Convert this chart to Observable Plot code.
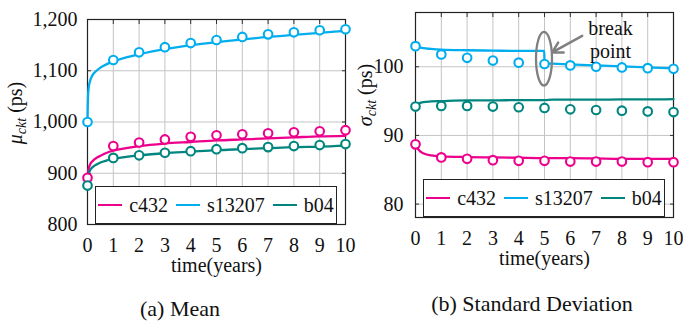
<!DOCTYPE html>
<html><head><meta charset="utf-8">
<script src="https://cdn.jsdelivr.net/npm/d3@7"></script>
<script src="https://cdn.jsdelivr.net/npm/@observablehq/plot@0.6"></script>
<style>
body{margin:0;background:#fff;}
#wrap{position:relative;width:683px;height:323px;font-family:"Liberation Serif","Times New Roman",serif;color:#111;overflow:hidden;}
#wrap svg, #wrap svg text, #wrap div, #wrap span{font-family:"Liberation Serif","Times New Roman",serif !important;}
.panel{position:absolute;top:0;}
.legend{position:absolute;box-sizing:border-box;border:1.2px solid #222;background:#fff;display:flex;align-items:center;justify-content:center;font-size:20px;}
.item{display:flex;align-items:center;margin:0 4px;}
.swatch{width:24px;height:2.6px;margin-right:7px;}
.caption{position:absolute;font-size:22px;text-align:center;white-space:nowrap;transform:translate(-50%,-50%);}
</style></head>
<body><div id="wrap"></div>
<script>
// ---------- data ----------
const years = [0,1,2,3,4,5,6,7,8,9,10];
const seriesNames = ["c432","s13207","b04"];
const seriesColors = ["#EC008C","#00AEEF","#00857F"];

// (a) mean, markers (ps)
const meanC432   = [891, 953, 960, 966, 971, 974, 976, 978, 980, 982, 984];
const meanS13207 = [1000,1121,1136,1146,1154,1160,1166,1171,1175,1179,1181];
const meanB04    = [876, 930, 935, 940, 943, 947, 949, 951, 953, 955, 957];
// (a) mean, fitted curves
const meanFitTime   = [0,0.02,0.05,0.1,0.2,0.35,0.5,0.75,1,1.5,2,3,4,5,6,7,8,9,10];
const meanFitC432   = [890,902,910,917,924,930,934,940,944,949,953,958,961,964,966,968,970,972,973];
const meanFitS13207 = [1000,1050,1068,1080,1092,1100,1106,1113,1118,1126,1132,1142,1150,1156,1161,1166,1170,1174,1178];
const meanFitB04    = [876,893,900,906,912,917,921,925,928,932,935,939,942,945,947,949,951,952,954];
const meanTicks = [800,900,1000,1100,1200];

// (b) standard deviation, markers (ps)
const sdC432   = [88.7,86.8,86.6,86.4,86.3,86.3,86.2,86.2,86.2,86.1,86.1];
const sdS13207 = [103.0,101.8,101.3,100.9,100.6,100.4,100.2,100.0,99.9,99.8,99.7];
const sdB04    = [94.2,94.3,94.3,94.2,94.1,94.0,93.8,93.7,93.6,93.5,93.4];
// (b) fitted curves (s13207 has a break point at 5 years)
const sdFitTime   = [0,0.1,0.3,0.6,1,2,3,4,4.99,5,5.3,6,7,8,9,10];
const sdFitC432   = [88.7,88.0,87.4,87.1,86.95,86.85,86.8,86.75,86.7,86.7,86.7,86.7,86.65,86.6,86.6,86.6];
const sdFitS13207 = [103.1,102.9,102.7,102.6,102.5,102.4,102.35,102.3,102.3,100.5,100.45,100.35,100.2,100.05,99.9,99.75];
const sdFitB04    = [94.2,94.6,94.85,94.95,95.0,95.1,95.1,95.15,95.15,95.15,95.2,95.2,95.2,95.25,95.25,95.3];
const sdTicks = [80,90,100];

// ---------- helpers ----------
function rows(times, arrays){
  return arrays.flatMap((vals,i)=>vals.map((v,j)=>({t:times[j], v, s:seriesNames[i]})));
}
const font = '"Liberation Serif", "Times New Roman", serif';
const gridColor = "#c4c4c4";
const thousands = d3.format(",");

function panel({markers, fits, ticks, yDomain, width, height, mL, mR, mT, mB, yPad, extra=[]}){
  return Plot.plot({
    width, height, marginLeft:mL, marginRight:mR, marginTop:mT, marginBottom:mB,
    style:{fontFamily:font, fontSize:"20px", background:"transparent", overflow:"visible", color:"#111"},
    x:{domain:[0,10]},
    y:{domain:yDomain},
    color:{domain:seriesNames, range:seriesColors},
    marks:[
      Plot.gridX(years, {stroke:gridColor, strokeOpacity:1, strokeWidth:1}),
      Plot.gridY(ticks, {stroke:gridColor, strokeOpacity:1, strokeWidth:1}),
      Plot.axisX(years, {anchor:"bottom", tickSize:0, tickPadding:13, fontSize:20, label:"time(years)", labelAnchor:"center", labelArrow:"none", labelOffset:47}),
      Plot.axisY(ticks, {anchor:"left", tickSize:0, tickPadding:yPad, fontSize:20, tickFormat:thousands, label:null}),
      Plot.axisX(years, {anchor:"bottom", tickSize:-4, tickFormat:()=>"", label:null, stroke:"#333"}),
      Plot.axisX(years, {anchor:"top", tickSize:-4, tickFormat:()=>"", label:null, stroke:"#333"}),
      Plot.axisY(ticks, {anchor:"left", tickSize:-4, tickFormat:()=>"", label:null, stroke:"#333"}),
      Plot.axisY(ticks, {anchor:"right", tickSize:-4, tickFormat:()=>"", label:null, stroke:"#333"}),
      Plot.frame({stroke:"#222", strokeWidth:1.2}),
      Plot.lineY(fits, {x:"t", y:"v", z:"s", stroke:"s", strokeWidth:2.3, curve:"monotone-x"}),
      Plot.dot(markers, {x:"t", y:"v", stroke:"s", fill:"white", r:4.3, strokeWidth:2.1}),
      ...extra
    ]
  });
}

function yLabel(svg, x, y, sym){
  const t = d3.select(svg).append("text")
    .attr("transform", `translate(${x},${y}) rotate(-90)`)
    .attr("text-anchor","middle").attr("font-size",20).attr("fill","#111");
  t.append("tspan").attr("font-style","italic").text(sym);
  t.append("tspan").attr("font-style","italic").attr("font-size",14).attr("dy",4).text("ckt");
  t.append("tspan").attr("dy",-4).text(" (ps)");
}

const wrap = document.getElementById("wrap");

// ---------- (a) Mean ----------
const chartA = panel({
  markers: rows(years, [meanC432, meanS13207, meanB04]),
  fits: rows(meanFitTime, [meanFitC432, meanFitS13207, meanFitB04]),
  ticks: meanTicks, yDomain:[800,1200],
  width:350, height:290, mL:87, mR:5, mT:19, mB:66, yPad:10
});
chartA.classList.add("panel");
chartA.style.left = "0px";
wrap.appendChild(chartA);
yLabel(chartA, 22, 113, "μ");

// ---------- (b) Standard deviation ----------
const breakNote = [{t:7.56, v:107.0, text:"break\npoint"}];
const breakArrow = [{t1:6.46, v1:104.5, t2:5.3, v2:102.1}];
const chartB = panel({
  markers: rows(years, [sdC432, sdS13207, sdB04]),
  fits: rows(sdFitTime, [sdFitC432, sdFitS13207, sdFitB04]),
  ticks: sdTicks, yDomain:[78.05,107.9],
  width:343, height:290, mL:75, mR:10, mT:12, mB:73, yPad:12,
  extra:[
    Plot.arrow(breakArrow, {x1:"t1", y1:"v1", x2:"t2", y2:"v2", stroke:"#808080", strokeWidth:2.5, headLength:12, bend:0}),
    Plot.text(breakNote, {x:"t", y:"v", text:"text", fontSize:20, lineAnchor:"top", lineHeight:1.15, textAnchor:"middle", fill:"#111"})
  ]
});
chartB.classList.add("panel");
chartB.style.left = "340px";
wrap.appendChild(chartB);
yLabel(chartB, 32, 95, "σ");
{
  const sx = chartB.scale("x"), sy = chartB.scale("y");
  const cx = sx.apply(5), cy = sy.apply(101.1);
  d3.select(chartB).append("ellipse")
    .attr("cx", cx).attr("cy", cy)
    .attr("rx", sx.apply(5.31) - cx).attr("ry", sy.apply(97.2) - cy)
    .attr("fill","none").attr("stroke","#808080").attr("stroke-width",2.3);
}

// ---------- legends ----------
function legend(left, top){
  const d = document.createElement("div");
  d.className = "legend";
  Object.assign(d.style, {left:left+"px", top:top+"px", width:"242px", height:"38px"});
  seriesNames.forEach((n,i)=>{
    const it = document.createElement("div"); it.className="item";
    const sw = document.createElement("span"); sw.className="swatch"; sw.style.background = seriesColors[i];
    const tx = document.createElement("span"); tx.textContent = n;
    it.appendChild(sw); it.appendChild(tx); d.appendChild(it);
  });
  wrap.appendChild(d);
}
legend(95, 186);
legend(423, 179);

// ---------- captions ----------
function caption(text, x, y){
  const c = document.createElement("div"); c.className="caption";
  c.textContent = text; c.style.left = x+"px"; c.style.top = y+"px";
  wrap.appendChild(c);
}
caption("(a) Mean", 180, 309);
caption("(b) Standard Deviation", 532, 304);
</script>
</body></html>
